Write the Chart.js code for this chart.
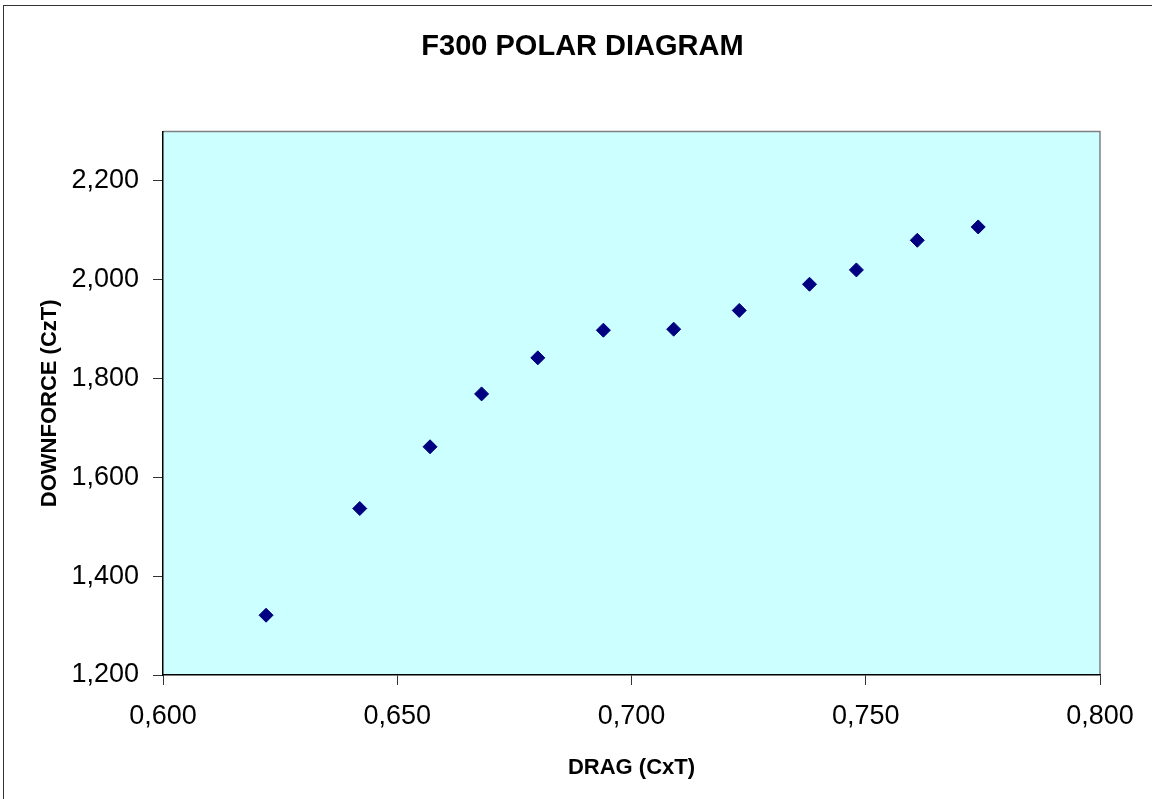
<!DOCTYPE html>
<html>
<head>
<meta charset="utf-8">
<title>F300 POLAR DIAGRAM</title>
<script src="https://cdn.jsdelivr.net/npm/chart.js@4.4.0/dist/chart.umd.min.js"></script>
<style>
    html, body { margin: 0; padding: 0; background: #fff; overflow: hidden; }
    #wrap { position: relative; width: 1152px; height: 799px; }
    #frame { position: absolute; left: 3px; top: 5px; width: 1200px; height: 900px; border: 1px solid #333; pointer-events: none; }
</style>
</head>
<body>
<div id="wrap">
    <canvas id="polarChart" width="1152" height="799"></canvas>
    <div id="frame"></div>
</div>
<script>
// Data
const drag = [0.622, 0.642, 0.657, 0.668, 0.680, 0.694, 0.709, 0.723, 0.738, 0.748, 0.761, 0.774];
const downforce = [1.321, 1.537, 1.662, 1.769, 1.842, 1.898, 1.900, 1.938, 1.991, 2.020, 2.080, 2.107];
const xTicks = [0.600, 0.650, 0.700, 0.750, 0.800];
const yTicks = [1.2, 1.4, 1.6, 1.8, 2.0, 2.2];

const FONT = "'Liberation Sans', Arial, sans-serif";

// comma decimal like the Excel original
function fmt(v) {
    return v.toFixed(3).replace('.', ',');
}

// plot area background + top/right border
const plotBg = {
    id: 'plotBg',
    beforeDraw(chart) {
        const { ctx, chartArea: a } = chart;
        ctx.save();
        ctx.fillStyle = '#CCFFFF';
        ctx.fillRect(a.left, a.top, a.right - a.left, a.bottom - a.top);
        ctx.strokeStyle = '#808080';
        ctx.lineWidth = 1.5;
        ctx.beginPath();
        ctx.moveTo(a.left, a.top);
        ctx.lineTo(a.right, a.top);
        ctx.lineTo(a.right, a.bottom);
        ctx.stroke();
        ctx.restore();
    }
};

new Chart(document.getElementById('polarChart'), {
    type: 'scatter',
    data: {
        datasets: [{
            label: 'F300',
            data: drag.map((x, i) => ({ x: x, y: downforce[i] })),
            pointStyle: 'rectRot',
            pointRadius: 7,
            pointHoverRadius: 7,
            backgroundColor: '#000080',
            borderColor: '#000080',
            borderWidth: 1,
            yAxisID: 'y'
        }]
    },
    options: {
        responsive: false,
        animation: false,
        layout: {
            padding: { left: 13, right: 0, top: 0, bottom: 0 }
        },
        plugins: {
            legend: { display: false },
            tooltip: { enabled: false },
            title: {
                display: true,
                text: 'F300 POLAR DIAGRAM',
                color: '#000',
                font: { family: FONT, size: 29, weight: 'bold' },
                padding: { top: 29.3, bottom: 67.5 }
            }
        },
        scales: {
            x: {
                type: 'linear',
                min: 0.6,
                max: 0.8,
                afterBuildTicks(scale) {
                    scale.ticks = xTicks.map(v => ({ value: v }));
                },
                afterFit(scale) {
                    scale.height = 124;
                },
                grid: {
                    drawOnChartArea: false,
                    drawTicks: true,
                    tickLength: 10,
                    color: '#333'
                },
                border: { display: true, color: '#000', width: 1.5 },
                ticks: {
                    color: '#000',
                    padding: 15,
                    maxRotation: 0,
                    font: { family: FONT, size: 27 },
                    callback: v => fmt(v)
                },
                title: {
                    display: true,
                    text: 'DRAG (CxT)',
                    color: '#000',
                    font: { family: FONT, size: 22, weight: 'bold' },
                    padding: { top: 0, bottom: 18 }
                }
            },
            y: {
                type: 'linear',
                position: 'left',
                min: 1.2,
                max: 2.3,
                afterBuildTicks(scale) {
                    scale.ticks = yTicks.map(v => ({ value: v }));
                },
                afterFit(scale) {
                    scale.width = 150;
                },
                grid: {
                    drawOnChartArea: false,
                    drawTicks: true,
                    tickLength: 10,
                    color: '#333'
                },
                border: { display: true, color: '#000', width: 1.5 },
                ticks: {
                    color: '#000',
                    padding: 14,
                    font: { family: FONT, size: 27 },
                    callback: v => fmt(v)
                },
                title: {
                    display: true,
                    text: 'DOWNFORCE (CzT)',
                    color: '#000',
                    font: { family: FONT, size: 22, weight: 'bold' },
                    padding: { top: 23.3, bottom: 0 }
                }
            },
            // empty right-hand margin so the plot ends where the original does
            yRight: {
                type: 'linear',
                position: 'right',
                min: 1.2,
                max: 2.3,
                afterFit(scale) {
                    scale.width = 52;
                },
                grid: { display: false, drawTicks: false },
                border: { display: false },
                ticks: { display: false }
            }
        }
    },
    plugins: [plotBg]
});
</script>
</body>
</html>
